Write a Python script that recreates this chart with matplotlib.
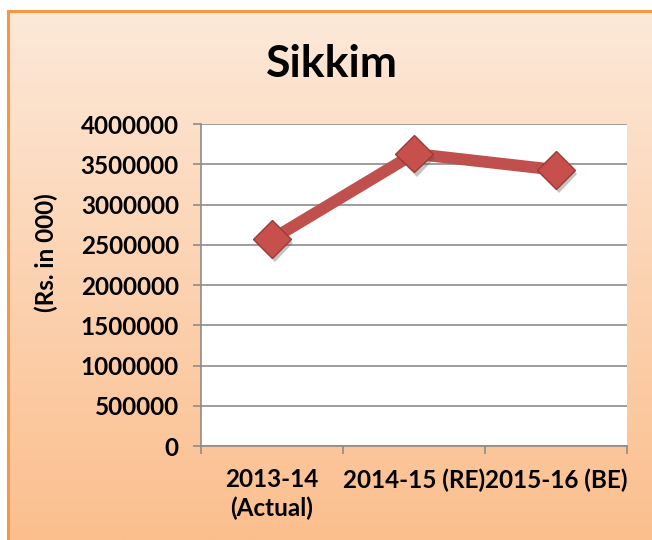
import numpy as np
import matplotlib
matplotlib.use("Agg")
import matplotlib.pyplot as plt
from matplotlib.colors import LinearSegmentedColormap
import matplotlib.patheffects as pe

plt.rcParams['font.family'] = ['Lato', 'DejaVu Sans']

categories = ["2013-14\n(Actual)", "2014-15 (RE)", "2015-16 (BE)"]
values = [2570000, 3630000, 3430000]
yticks = [0, 500000, 1000000, 1500000, 2000000, 2500000, 3000000, 3500000, 4000000]

W, H = 652, 540
fig = plt.figure(figsize=(W / 100, H / 100), dpi=100)
fig.patch.set_facecolor("white")

# orange gradient background with border
bg = fig.add_axes([7.5 / W, 0, 1 - 7.5 / W, 1 - 10.5 / H])
grad = np.linspace(0, 1, 256).reshape(-1, 1)
cmap = LinearSegmentedColormap.from_list("bg", ["#fde9d9", "#fcd3b2", "#fbbf8e"])
bg.imshow(grad, aspect="auto", cmap=cmap, extent=[0, 1, 0, 1], origin="upper")
bg.set_xlim(0, 1)
bg.set_ylim(0, 1)
bg.set_xticks([])
bg.set_yticks([])
for side in ["right", "bottom"]:
    bg.spines[side].set_visible(False)
for side in ["left", "top"]:
    bg.spines[side].set_color("#f79646")
    bg.spines[side].set_linewidth(2.2)

# plot area
left, right, top, bottom = 201, 627, 124, 446
ax = fig.add_axes([left / W, 1 - bottom / H, (right - left) / W, (bottom - top) / H])
ax.set_facecolor("white")
x = np.arange(len(categories))
ax.plot(x, values, color="#c0504d", linewidth=8.5, solid_capstyle="butt", zorder=3)
ax.plot(x, values, linestyle="none", marker="D", markersize=19,
        markerfacecolor="#c8504c", markeredgecolor="#9b3b38", markeredgewidth=1.0,
        zorder=4,
        path_effects=[pe.SimplePatchShadow(offset=(2, -3), shadow_rgbFace="#555555", alpha=0.35),
                      pe.Normal()])

ax.set_xlim(-0.5, len(categories) - 0.5)
ax.set_ylim(0, 4000000)
ax.set_yticks(yticks)
ax.set_yticklabels([str(v) for v in yticks], fontsize=17.5, fontweight="bold")
ax.yaxis.grid(True, color="#8c8c8c", linewidth=1.2)
ax.set_axisbelow(True)

ax.set_xticks(x)
ax.set_xticklabels(categories, fontsize=17.5, fontweight="bold", linespacing=1.25)
ax.set_xticks(np.arange(len(categories) + 1) - 0.5, minor=True)
ax.tick_params(axis="x", which="major", length=0, pad=16)
ax.tick_params(axis="x", which="minor", length=6, color="#8c8c8c", width=1.2)
for lbl in ax.get_xticklabels():
    lbl.set_verticalalignment("top")
ax.tick_params(axis="y", length=6, color="#8c8c8c", width=1.2, pad=10)

for side in ["top", "right"]:
    ax.spines[side].set_visible(False)
for side in ["left", "bottom"]:
    ax.spines[side].set_color("#8c8c8c")
    ax.spines[side].set_linewidth(1.2)

ax.set_ylabel("(Rs. in 000)", fontsize=17.5, fontweight="bold", labelpad=16)
ax.yaxis.label.set_y(0.6)
fig.text(332 / W, 1 - 64 / H, "Sikkim", ha="center", va="center",
         fontsize=32, fontweight="bold")

fig.savefig("out.png", dpi=100)
